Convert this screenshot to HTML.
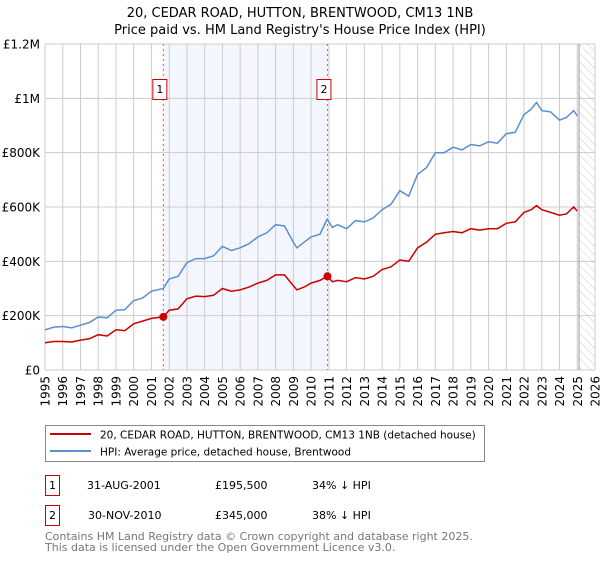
<!DOCTYPE html>
<html><head><meta charset="utf-8"><style>
body{margin:0;background:#fff;font-family:"DejaVu Sans","Liberation Sans",sans-serif;}
svg text{font-family:"DejaVu Sans","Liberation Sans",sans-serif;}
</style></head><body>
<svg id="c" width="600" height="560" viewBox="0 0 600 560" xmlns="http://www.w3.org/2000/svg">
<defs><pattern id="hatch" width="6" height="6" patternUnits="userSpaceOnUse" patternTransform="rotate(-45)"><line x1="0" y1="0" x2="0" y2="6" stroke="#ccc" stroke-width="1"/></pattern></defs>
<text x="300" y="17" text-anchor="middle" font-size="13">20, CEDAR ROAD, HUTTON, BRENTWOOD, CM13 1NB</text>
<text x="300" y="34" text-anchor="middle" font-size="13">Price paid vs. HM Land Registry's House Price Index (HPI)</text>
<g id="plot"></g>
<g>
<rect x="45.5" y="425.5" width="439" height="36" fill="#fff" stroke="#888"/>
<line x1="50" y1="434" x2="91" y2="434" stroke="#cc0000" stroke-width="2"/>
<text x="100" y="438.5" font-size="10.5">20, CEDAR ROAD, HUTTON, BRENTWOOD, CM13 1NB (detached house)</text>
<line x1="50" y1="451" x2="91" y2="451" stroke="#5b8fd0" stroke-width="2"/>
<text x="100" y="455.5" font-size="10.5">HPI: Average price, detached house, Brentwood</text>
</g>
<g font-size="11">
<rect x="45.5" y="475.5" width="14" height="20" fill="#fff" stroke="#cc0000"/>
<text x="52.5" y="489" text-anchor="middle">1</text>
<text x="87" y="489">31-AUG-2001</text><text x="215" y="489">£195,500</text><text x="312" y="489">34% ↓ HPI</text>
<rect x="45.5" y="505.5" width="14" height="20" fill="#fff" stroke="#cc0000"/>
<text x="52.5" y="519" text-anchor="middle">2</text>
<text x="88" y="519">30-NOV-2010</text><text x="215" y="519">£345,000</text><text x="312" y="519">38% ↓ HPI</text>
</g>
<text x="45" y="540" font-size="11" fill="#777">Contains HM Land Registry data © Crown copyright and database right 2025.</text>
<text x="45" y="551" font-size="11" fill="#777">This data is licensed under the Open Government Licence v3.0.</text>
</svg>
<script>
const yTicks=[0,200000,400000,600000,800000,1000000,1200000];
const yTickLabels=["£0","£200K","£400K","£600K","£800K","£1M","£1.2M"];
const xYears=[1995,1996,1997,1998,1999,2000,2001,2002,2003,2004,2005,2006,2007,2008,2009,2010,2011,2012,2013,2014,2015,2016,2017,2018,2019,2020,2021,2022,2023,2024,2025,2026];
const hpiT=[1995,1995.5,1996,1996.5,1997,1997.5,1998,1998.5,1999,1999.5,2000,2000.5,2001,2001.67,2002,2002.5,2003,2003.5,2004,2004.5,2005,2005.5,2006,2006.5,2007,2007.5,2008,2008.5,2009,2009.2,2009.6,2010,2010.5,2010.9,2011.2,2011.5,2012,2012.5,2013,2013.5,2014,2014.5,2015,2015.5,2016,2016.5,2017,2017.5,2018,2018.5,2019,2019.5,2020,2020.5,2021,2021.5,2022,2022.4,2022.7,2023,2023.5,2024,2024.4,2024.8,2025];
const hpiV=[148000,158000,160000,155000,165000,175000,195000,192000,220000,222000,255000,265000,290000,300000,335000,345000,395000,410000,410000,420000,455000,440000,450000,465000,490000,505000,535000,530000,470000,450000,470000,490000,500000,555000,525000,535000,520000,550000,545000,560000,590000,610000,660000,640000,720000,745000,800000,800000,820000,810000,830000,825000,840000,835000,870000,875000,940000,960000,985000,955000,950000,920000,930000,955000,935000];
const priceT=[1995,1995.5,1996,1996.5,1997,1997.5,1998,1998.5,1999,1999.5,2000,2000.5,2001,2001.67,2002,2002.5,2003,2003.5,2004,2004.5,2005,2005.5,2006,2006.5,2007,2007.5,2008,2008.5,2009,2009.2,2009.6,2010,2010.5,2010.9,2011.2,2011.5,2012,2012.5,2013,2013.5,2014,2014.5,2015,2015.5,2016,2016.5,2017,2017.5,2018,2018.5,2019,2019.5,2020,2020.5,2021,2021.5,2022,2022.4,2022.7,2023,2023.5,2024,2024.4,2024.8,2025];
const priceV=[100000,105000,105000,103000,110000,115000,130000,125000,148000,145000,170000,180000,190000,195500,220000,225000,262000,272000,270000,275000,300000,290000,295000,305000,320000,330000,350000,350000,310000,295000,305000,320000,330000,345000,325000,330000,325000,340000,335000,345000,370000,380000,405000,400000,450000,470000,500000,505000,510000,505000,520000,515000,520000,520000,540000,545000,580000,590000,605000,590000,580000,570000,575000,600000,585000];
const saleT=[2001.67,2010.92];
const saleV=[195500,345000];
const saleLabels=["1","2"];
const X0=45,X1=595,Y0=370,Y1=44,T0=1995,T1=2026,VMAX=1200000;
const sx=t=>X0+(t-T0)/(T1-T0)*(X1-X0);
const sy=v=>Y0-v/VMAX*(Y0-Y1);
const NS="http://www.w3.org/2000/svg";
const g=document.getElementById('plot');
function mk(tag,attrs){const e=document.createElementNS(NS,tag);for(const k in attrs)e.setAttribute(k,attrs[k]);g.appendChild(e);return e;}
let e;
e=mk('rect',{x:sx(saleT[0]),y:Y1,width:sx(saleT[1])-sx(saleT[0]),height:Y0-Y1,fill:'#eef3fc',opacity:0.7});


e=mk('rect',{x:sx(2025.1),y:Y1,width:X1-sx(2025.1),height:Y0-Y1,fill:'url(#hatch)'});


xYears.forEach(yr=>{const l=mk('line',{x1:sx(yr),x2:sx(yr),y1:Y1,y2:Y0,stroke:'#ccc','stroke-width':1});


const t=mk('text',{x:0,y:0,'font-size':12,'text-anchor':'end',transform:`translate(${sx(yr)+4.5},${Y0+6}) rotate(-90)`});t.textContent=yr;

});
yTicks.forEach((v,i)=>{const l=mk('line',{x1:X0,x2:X1,y1:sy(v),y2:sy(v),stroke:'#ccc','stroke-width':1});


const t=mk('text',{x:40,y:sy(v)+4.5,'font-size':12,'text-anchor':'end'});t.textContent=yTickLabels[i];

});
e=mk('line',{x1:sx(2025.1),x2:sx(2025.1),y1:Y1,y2:Y0,stroke:'#999','stroke-width':1});


saleT.forEach((t,i)=>{const l=mk('line',{x1:sx(t),x2:sx(t),y1:Y1,y2:Y0,stroke:'#ee5555','stroke-width':1,'stroke-dasharray':'2,3'});


const r=mk('rect',{x:sx(t)-10.5,y:79.5,width:14,height:20,fill:'#fff',stroke:'#cc0000'});


const tx=mk('text',{x:sx(t)-3.5,y:93,'font-size':11,'text-anchor':'middle'});tx.textContent=saleLabels[i];

});
const path=(T,V)=>T.map((t,i)=>(i?'L':'M')+sx(t).toFixed(1)+','+sy(V[i]).toFixed(1)).join('');
e=mk('path',{d:path(hpiT,hpiV),fill:'none',stroke:'#5b8fd0','stroke-width':1.5});


e=mk('path',{d:path(priceT,priceV),fill:'none',stroke:'#cc0000','stroke-width':1.5});


saleT.forEach((t,i)=>{const c=mk('circle',{cx:sx(t),cy:sy(saleV[i]),r:4,fill:'#cc0000'});

});
</script>
</body></html>
